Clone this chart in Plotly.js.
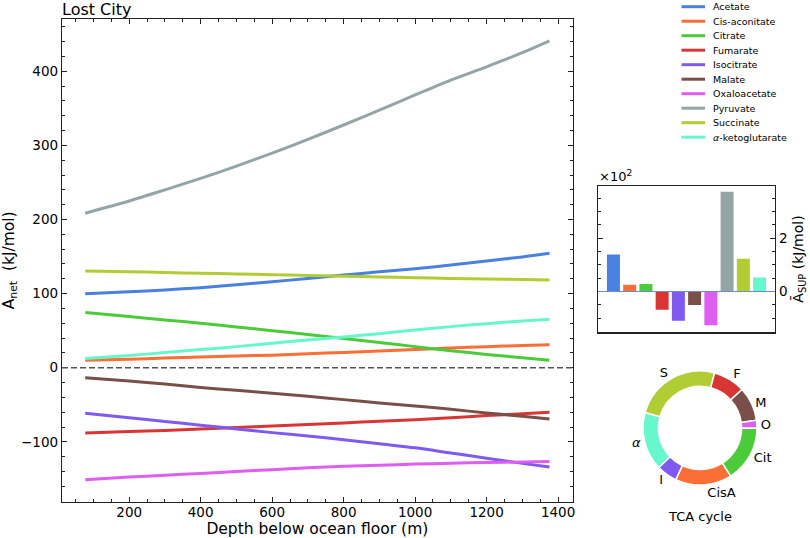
<!DOCTYPE html>
<html>
<head>
<meta charset="utf-8">
<script src="https://cdn.plot.ly/plotly-3.0.1.min.js"></script>
<style>html,body{margin:0;padding:0;background:#fff}#chart{width:810px;height:538px}</style>
</head>
<body>
<div id="chart"></div>
<script>
// ---- data ----
const depth = [77, 200, 300, 400, 500, 600, 700, 800, 900, 1000, 1100, 1200, 1300, 1376];
const seriesNames = ['Acetate','Cis-aconitate','Citrate','Fumarate','Isocitrate','Malate','Oxaloacetate','Pyruvate','Succinate','<i>α</i>-ketoglutarate'];
const acetate      = [100, 102.5, 105, 108, 112, 116, 120.5, 125, 129.5, 133.5, 138.5, 144, 149.5, 154.5];
const cisAconitate = [10, 11.5, 13, 14.5, 16, 17, 19, 20.5, 22.5, 24.5, 26.5, 28.5, 30, 31];
const citrate      = [74.5, 69, 64.5, 60, 55, 50, 45, 39.5, 34, 28.5, 23, 18, 13.5, 10];
const fumarate     = [-88, -86, -84.5, -82.5, -80.5, -78.5, -76.5, -74.5, -72, -70, -67.5, -64.5, -62, -60];
const isocitrate   = [-61.5, -67.5, -72.5, -77.5, -82.5, -87.5, -92, -97, -102.5, -108, -115, -122, -129, -134];
const malate       = [-13.5, -18, -22, -26.5, -30.5, -34.5, -38.5, -43, -47.5, -51.5, -56, -61, -65.5, -69];
const oxaloacetate = [-151, -147.5, -145, -142.5, -140, -137.5, -135, -133, -131.5, -130, -128.8, -127.8, -127, -126.3];
const pyruvate     = [208.5, 225, 240, 255.5, 272, 289.5, 308, 327.5, 347.5, 368, 388, 406, 425, 441];
const succinate    = [130.5, 129.5, 128.5, 127.5, 126.5, 125.5, 124.5, 123.5, 122.5, 121.5, 120.5, 119.8, 119, 118.5];
const ketoglutarate= [12.5, 16.5, 20.5, 24.5, 28.5, 33, 37.5, 41.5, 46, 51, 55.5, 59.5, 63, 65.5];
const colors = ['#4a80e0','#fb6e35','#4ccb3a','#d93535','#7f5af0','#7a4f4a','#dd5ef0','#95a5a6','#b2cc33','#66f7cc'];

// mean SUP affinity (x10^2 kJ/mol)
const supValues = [1.39, 0.25, 0.28, -0.68, -1.10, -0.51, -1.27, 3.74, 1.23, 0.53];

// TCA donut (clockwise from 3 o'clock)
const tcaLabels = ['Cit','CisA','I','<i>α</i>','S','F','M','O'];
const tcaValues = [57.5, 57.5, 21, 59.5, 89, 32.6, 34.7, 7.7];
const tcaColorIdx = [2, 1, 4, 9, 8, 3, 5, 6];

// ---- build ----
const W = 810, H = 538;
const px = v => v / W, py = v => 1 - v / H;
const allSeries = [acetate, cisAconitate, citrate, fumarate, isocitrate, malate, oxaloacetate, pyruvate, succinate, ketoglutarate];
const font = 'DejaVu Sans, sans-serif';

const traces = allSeries.map((s, i) => ({
  type: 'scatter', mode: 'lines', x: depth, y: s, name: seriesNames[i],
  line: {color: colors[i], width: 3, shape: 'spline', smoothing: 0.8}, xaxis: 'x', yaxis: 'y', showlegend: false, hoverinfo: 'skip'
}));
traces.push({
  type: 'bar', x: seriesNames.map((_, i) => i), y: supValues, width: 0.8,
  marker: {color: colors}, xaxis: 'x2', yaxis: 'y2', showlegend: false, hoverinfo: 'skip'
});
traces.push({
  type: 'pie', labels: tcaLabels, values: tcaValues, sort: false, direction: 'clockwise', rotation: 90,
  hole: 0.73, textinfo: 'label', textposition: 'outside', showlegend: false, hoverinfo: 'skip',
  marker: {colors: tcaColorIdx.map(i => colors[i]), line: {color: '#ffffff', width: 1.5}},
  textfont: {size: 13, color: '#000', family: font},
  domain: {x: [px(643), px(757)], y: [py(485), py(371)]}
});

const shapes = [
  {type: 'line', xref: 'x domain', x0: 0, x1: 1, yref: 'y', y0: 0, y1: 0, line: {color: '#555', width: 1.3, dash: '6px,3px'}},
  {type: 'line', xref: 'x2 domain', x0: 0, x1: 1, yref: 'y2', y0: 0, y1: 0, line: {color: '#6a8fc8', width: 1}}
];
const annotations = [
  {text: '×10<sup>2</sup>', xref: 'paper', yref: 'paper', x: px(597), y: py(176), xanchor: 'left', yanchor: 'middle', showarrow: false, font: {size: 13, color: '#000'}},
  {text: 'TCA cycle', xref: 'paper', yref: 'paper', x: px(700), y: py(516), xanchor: 'center', yanchor: 'middle', showarrow: false, font: {size: 13, color: '#000'}}
];
seriesNames.forEach((n, i) => {
  const yy = py(6.7 + i * 14.5);
  shapes.push({type: 'line', xref: 'paper', yref: 'paper', x0: px(681.5), x1: px(705), y0: yy, y1: yy, line: {color: colors[i], width: 3}});
  annotations.push({text: n, xref: 'paper', yref: 'paper', x: px(711), y: yy, xanchor: 'left', yanchor: 'middle', showarrow: false, font: {size: 9.5, color: '#000'}});
});

const axCommon = {showgrid: false, zeroline: false, showline: true, linecolor: '#222', linewidth: 1.2,
  ticks: 'inside', ticklen: 5, tickwidth: 1, tickcolor: '#222', mirror: 'allticks', tickfont: {size: 13.5, color: '#000'}};

const layout = {
  width: W, height: H, margin: {l: 0, r: 0, t: 0, b: 0}, paper_bgcolor: '#fff', plot_bgcolor: 'rgba(0,0,0,0)',
  font: {family: font, color: '#000'},
  title: {text: 'Lost City', x: px(62), xanchor: 'left', xref: 'paper', y: py(9), yanchor: 'middle', font: {size: 16, color: '#000'}},
  xaxis: Object.assign({}, axCommon, {domain: [px(62), px(572.7)], range: [12, 1441], dtick: 200, tick0: 0, ticklabelstandoff: -2,
    minor: {dtick: 50, ticks: 'inside', ticklen: 3, tickcolor: '#222'},
    title: {text: 'Depth below ocean floor (m)', font: {size: 15.5}, standoff: 5}}),
  yaxis: Object.assign({}, axCommon, {domain: [py(501.7), py(19)], range: [-180.7, 470.5], dtick: 100, tick0: 0,
    minor: {dtick: 20, ticks: 'inside', ticklen: 3, tickcolor: '#222'},
    title: {text: 'A<sub>net</sub>\u00a0\u00a0(kJ/mol)', font: {size: 15.5}, standoff: 8}}),
  xaxis2: {domain: [px(598), px(775)], range: [-0.95, 9.95], showticklabels: false, ticks: '', showgrid: false, zeroline: false,
    showline: true, mirror: true, linecolor: '#222', linewidth: 1.2, anchor: 'y2'},
  yaxis2: Object.assign({}, axCommon, {domain: [py(332.3), py(185.7)], range: [-1.53, 3.97], dtick: 2, tick0: 0, side: 'right', anchor: 'x2',
    minor: {dtick: 0.5, ticks: 'inside', ticklen: 3, tickcolor: '#222'},
    title: {text: 'Ā<sub>SUP</sub> (kJ/mol)', font: {size: 14}, standoff: 6}}),
  shapes: shapes, annotations: annotations
};

Plotly.newPlot('chart', traces, layout, {staticPlot: true, displayModeBar: false});
</script>
</body>
</html>
